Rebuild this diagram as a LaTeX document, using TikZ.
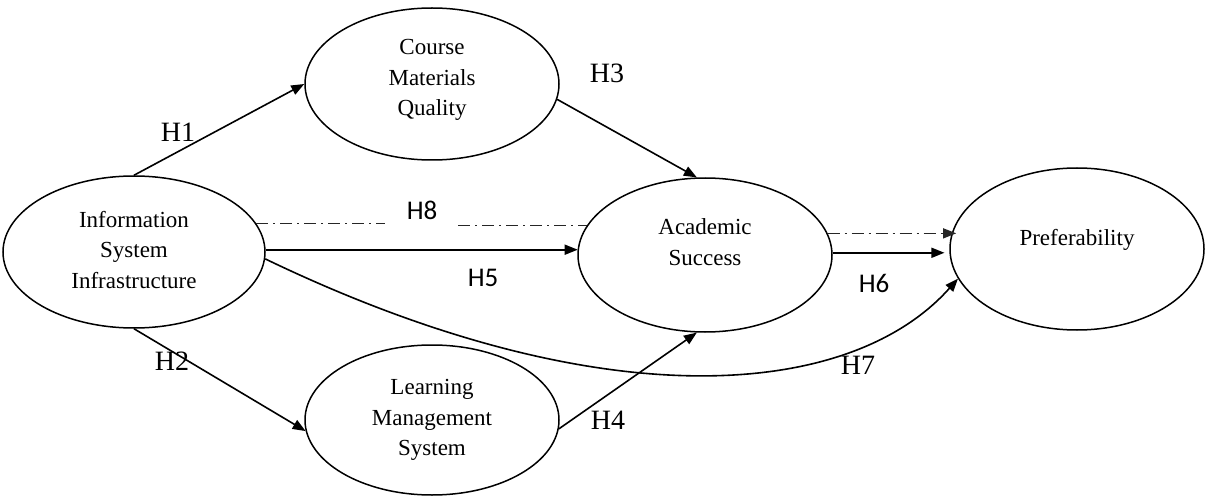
\documentclass[tikz,border=0pt]{standalone}
\usepackage{fontspec}
\setmainfont{Liberation Serif}
\newfontfamily\hsans{Carlito}
\usetikzlibrary{shapes.geometric,arrows.meta}
\begin{document}
\begin{tikzpicture}[x=1pt,y=-1pt,
  construct/.style={ellipse,draw,line width=1.5pt,inner sep=0pt,
    minimum width=254pt,minimum height=#1},
  construct/.default=152pt,
  ctext/.style={align=center,inner sep=0pt,font=\fontsize{23}{30.5}\selectfont},
  hyp/.style={inner sep=0pt,font=\fontsize{28}{30}\selectfont},
  hypsans/.style={inner sep=0pt,font=\hsans\fontsize{27}{30}\selectfont},
  link/.style={line width=1.6pt,-{Triangle[length=13pt,width=10pt]}},
  dotdash/.style={line width=1.2pt,black!85,dash pattern=on 12pt off 5pt on 2pt off 5pt},
]
\useasboundingbox (0,0) rectangle (1205,500);

% constructs
\node[construct,minimum width=262pt] (isi) at (134,252) {};
\node[construct] (cmq) at (432,84) {};
\node[construct=154pt] (as) at (705,255) {};
\node[construct=150pt] (lms) at (432,420) {};
\node[construct=162pt] (pref) at (1077,249) {};

\node[ctext] (isi-t) at (134,250) {Information\\System\\Infrastructure};
\node[ctext] (cmq-t) at (432,80) {Course\\Materials\\Quality};
\node[ctext] (as-t) at (705,242) {Academic\\Success};
\node[ctext] (lms-t) at (432,420) {Learning\\Management\\System};
\node[ctext] (pref-t) at (1077,240) {Preferability};

% hypothesised paths
\draw[link] (isi.90) -- (cmq.180);
\draw[link] (isi.270) -- (lms.185);
\draw[link] (cmq.-7) -- (as.96);
\draw[link] (lms.-4.5) -- (as.264);
\draw[link] (isi.1) -- (isi.1 -| as.177);
\draw[link,shorten >=5pt] (as.1) -- (as.1 -| pref.182);
\draw[link] (isi.-3) .. controls (600,420) and (850,400) .. (pref.194);

% indirect (mediated) paths
\coordinate (h8a) at (385,224);
\coordinate (h8b) at (458,224);
\draw[dotdash] (isi.13) -- (isi.13 -| h8a);
\draw[dotdash] (as.166 -| h8b) -- (as.166);
\draw[dotdash,-{Triangle[length=13pt,width=10pt]},shorten >=-4pt] (as.10) -- (as.10 -| pref.172);

% path labels
\node[hyp] (h1) at (178,132) {H1};
\node[hyp] (h2) at (172,361) {H2};
\node[hyp] (h3) at (607,73) {H3};
\node[hyp] (h4) at (608,420) {H4};
\node[hypsans] (h5) at (483,278) {H5};
\node[hypsans] (h6) at (874,283) {H6};
\node[hyp] (h7) at (858,365) {H7};
\node[hypsans] (h8) at (422,210) {H8};
\end{tikzpicture}
\end{document}
